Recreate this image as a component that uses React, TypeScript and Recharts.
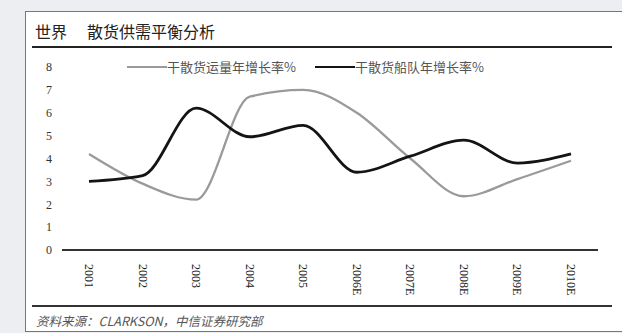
import React from 'react';
import { LineChart, Line, XAxis, YAxis } from 'recharts';

const years = ['2001', '2002', '2003', '2004', '2005', '2006E', '2007E', '2008E', '2009E', '2010E'];
const cargoGrowth = [4.2, 2.9, 2.2, 6.7, 7.0, 6.0, 4.0, 2.35, 3.1, 3.9];
const fleetGrowth = [3.0, 3.25, 6.2, 4.95, 5.45, 3.4, 4.1, 4.8, 3.8, 4.2];
const yTicks = [0, 1, 2, 3, 4, 5, 6, 7, 8];

const SERIES = [
  { key: 'cargo', name: '干散货运量年增长率%', color: '#9a9a9a', width: 2.3 },
  { key: 'fleet', name: '干散货船队年增长率%', color: '#141414', width: 2.8 },
];

const data = years.map((year, i) => ({
  year,
  cargo: cargoGrowth[i],
  fleet: fleetGrowth[i],
}));

const XTick = ({ x, y, payload }: any) => (
  <text
    transform={`translate(${x},${y + 6}) rotate(90)`}
    textAnchor="start"
    dominantBaseline="central"
    fontSize={12}
    fontFamily="'Liberation Serif', serif"
    fill="#222"
  >
    {payload.value}
  </text>
);

const LegendBox = () => (
  <div
    style={{
      position: 'absolute',
      left: 127,
      top: 58,
      display: 'flex',
      alignItems: 'center',
      fontSize: 13,
      fontFamily: "'Noto Sans CJK SC', sans-serif",
      color: '#555',
    }}
  >
    {SERIES.map((s, i) => (
      <div key={s.key} style={{ display: 'flex', alignItems: 'center', marginRight: i === 0 ? 19 : 0 }}>
        <span style={{ display: 'inline-block', width: 40, height: s.width, background: s.color }} />
        <span style={{ lineHeight: '18px' }}>{s.name}</span>
      </div>
    ))}
  </div>
);

export default function App() {
  return (
    <div style={{ position: 'fixed', left: 0, top: 0, width: 622, height: 333, background: '#eceef1', overflow: 'hidden' }}>
      <div
        style={{
          position: 'absolute',
          left: 25,
          top: 11,
          width: 620,
          height: 321,
          background: '#fff',
          border: '1px solid #777',
          boxSizing: 'border-box',
        }}
      />
      <div
        style={{
          position: 'absolute',
          left: 35,
          top: 22,
          fontSize: 16,
          fontFamily: "'Noto Sans CJK SC', sans-serif",
          color: '#222',
          lineHeight: '19px',
        }}
      >
        世界<span style={{ display: 'inline-block', width: 20 }} />散货供需平衡分析
      </div>
      <div style={{ position: 'absolute', left: 32, top: 46, width: 580, height: 2, background: '#222' }} />
      <div style={{ position: 'absolute', left: 0, top: 0 }}>
        <LineChart width={622} height={333} data={data} margin={{ top: 67, right: 24, bottom: 0, left: 0 }}>
          <XAxis
            dataKey="year"
            height={83}
            padding={{ left: 27, right: 27 }}
            tick={<XTick />}
            tickLine={false}
            axisLine={{ stroke: '#333', strokeWidth: 2 }}
            interval={0}
          />
          <YAxis
            width={62}
            domain={[0, 8]}
            ticks={yTicks}
            axisLine={false}
            tickLine={false}
            tickSize={8}
            tickMargin={2}
            tick={{ fontSize: 12, fill: '#333', fontFamily: "'Liberation Serif', serif" }}
          />
          {SERIES.map((s) => (
            <Line
              key={s.key}
              type="monotone"
              dataKey={s.key}
              name={s.name}
              stroke={s.color}
              strokeWidth={s.width}
              dot={false}
              isAnimationActive={false}
            />
          ))}
        </LineChart>
      </div>
      <LegendBox />
      <div style={{ position: 'absolute', left: 32, top: 305, width: 580, height: 2, background: '#333' }} />
      <div
        style={{
          position: 'absolute',
          left: 36,
          top: 313,
          fontSize: 12.5,
          fontStyle: 'italic',
          fontFamily: "'Noto Sans CJK SC', sans-serif",
          color: '#555',
          lineHeight: '15px',
        }}
      >
        资料来源：CLARKSON，中信证券研究部
      </div>
    </div>
  );
}
